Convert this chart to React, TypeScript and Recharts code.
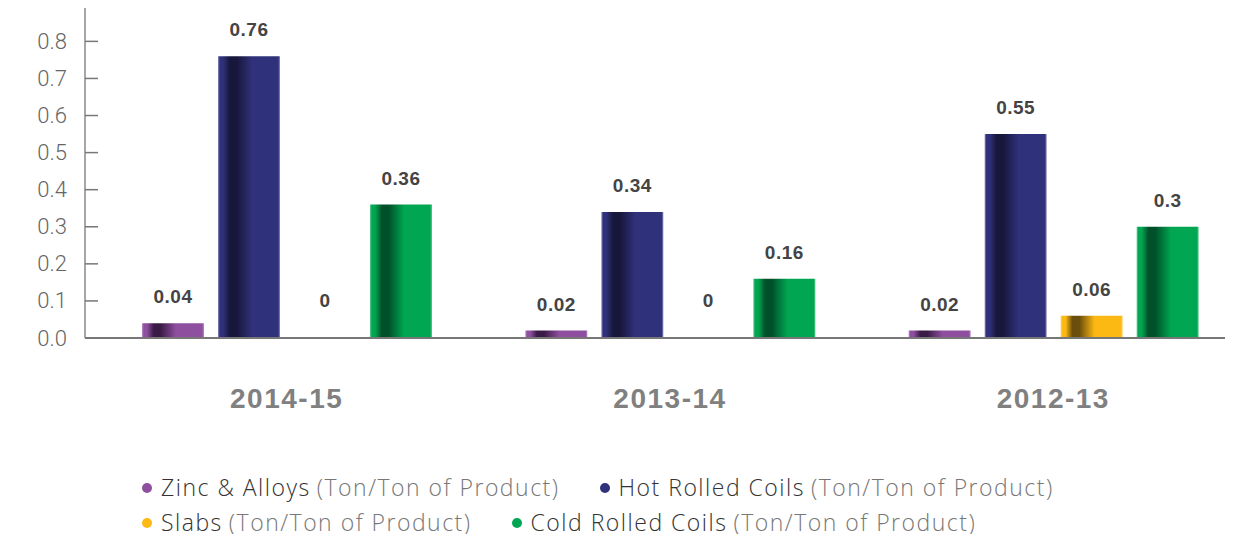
import { BarChart, Bar, XAxis, YAxis, Legend, LabelList } from 'recharts';

const years = ['2014-15', '2013-14', '2012-13'];
const zinc = [0.04, 0.02, 0.02];
const hotRolled = [0.76, 0.34, 0.55];
const slabs = [0, 0, 0.06];
const coldRolled = [0.36, 0.16, 0.3];
const yTicks = [0, 0.1, 0.2, 0.3, 0.4, 0.5, 0.6, 0.7, 0.8];
const unitLabel = '(Ton/Ton of Product)';

const series = [
  { key: 'zinc', name: 'Zinc & Alloys', color: '#8f4f9f', dark: '#3a1b45', edge: '#b98cc4' },
  { key: 'hot', name: 'Hot Rolled Coils', color: '#30317b', dark: '#17173b', edge: '#8a8ab8' },
  { key: 'slabs', name: 'Slabs', color: '#fdb913', dark: '#6b4d0c', edge: '#fdd070' },
  { key: 'cold', name: 'Cold Rolled Coils', color: '#00a651', dark: '#00502a', edge: '#60c890' },
];

const data = years.map((year, i) => ({
  year,
  zinc: zinc[i],
  hot: hotRolled[i],
  slabs: slabs[i],
  cold: coldRolled[i],
}));

const colorOf: Record<string, string> = Object.fromEntries(series.map((s) => [s.key, s.color]));
const orderOf: Record<string, number> = Object.fromEntries(series.map((s, i) => [s.key, i]));

function YTick(props: any) {
  const { x, y, payload } = props;
  return (
    <g>
      <line x1={x + 18} x2={x + 31} y1={y} y2={y} stroke="#777" strokeWidth={1.5} />
      <text
        x={x}
        y={y}
        dy={7.5}
        textAnchor="end"
        fill="#666"
        fontSize={22}
        fontFamily="Roboto, 'Liberation Sans', sans-serif"
        fontWeight={300}
      >
        {Number(payload.value).toFixed(1)}
      </text>
    </g>
  );
}

function ValueLabel(props: any) {
  const { x, y, width, value } = props;
  const lift = value === 0 ? 31 : 20;
  return (
    <text
      x={x + width / 2}
      y={y - lift}
      textAnchor="middle"
      fill="#444"
      fontSize={19}
      fontWeight="bold"
      letterSpacing={0.5}
      fontFamily="'Liberation Sans', Arial, sans-serif"
    >
      {value}
    </text>
  );
}

function LegendContent(props: any) {
  const items = [...(props.payload || [])].sort(
    (a: any, b: any) => orderOf[a.dataKey] - orderOf[b.dataKey]
  );
  const rows = [items.slice(0, 2), items.slice(2, 4)];
  return (
    <div style={{ height: 64, paddingLeft: 134 }}>
      {rows.map((row: any[], r: number) => (
        <div
          key={r}
          style={{
            height: r === 0 ? 35 : 23,
            paddingTop: r === 0 ? 0 : 6,
            display: 'flex',
            alignItems: 'center',
            gap: 40,
          }}
        >
          {row.map((item: any) => (
            <div
              key={item.dataKey}
              style={{
                display: 'flex',
                alignItems: 'center',
                fontFamily: "'Open Sans', Roboto, sans-serif",
                fontWeight: 300,
                fontSize: 23,
                lineHeight: 1,
                letterSpacing: 1.5,
                whiteSpace: 'nowrap',
              }}
            >
              <span
                style={{
                  width: 10,
                  height: 10,
                  borderRadius: 5,
                  background: colorOf[item.dataKey],
                  marginRight: 9,
                  display: 'inline-block',
                }}
              />
              <span style={{ color: '#333' }}>{item.value}</span>
              <span style={{ color: '#777', marginLeft: 6 }}>{unitLabel}</span>
            </div>
          ))}
        </div>
      ))}
    </div>
  );
}

export default function App() {
  return (
    <BarChart
      width={1217}
      height={526}
      data={data}
      margin={{ top: 0, right: 0, bottom: 0, left: 0 }}
      barSize={62}
      barGap={14}
    >
      <defs>
        {series.map((s) => (
          <linearGradient key={s.key} id={`grad-${s.key}`} x1="0" y1="0" x2="1" y2="0">
            <stop offset="0%" stopColor={s.edge} />
            <stop offset="3%" stopColor={s.color} />
            <stop offset="8%" stopColor={s.color} />
            <stop offset="19%" stopColor={s.dark} />
            <stop offset="30%" stopColor={s.dark} />
            <stop offset="55%" stopColor={s.color} />
            <stop offset="97%" stopColor={s.color} />
            <stop offset="100%" stopColor={s.edge} />
          </linearGradient>
        ))}
      </defs>
      <XAxis
        dataKey="year"
        height={132}
        padding={{ left: 10, right: -20 }}
        axisLine={{ stroke: '#777', strokeWidth: 2 }}
        tickLine={false}
        tickSize={0}
        tickMargin={50}
        tick={{
          fill: '#808080',
          fontSize: 28,
          fontWeight: 'bold',
          letterSpacing: 1.5,
          fontFamily: "'Liberation Sans', Arial, sans-serif",
        }}
      />
      <YAxis
        width={77}
        domain={[0, 0.89]}
        ticks={yTicks}
        interval={0}
        axisLine={{ stroke: '#888', strokeWidth: 1.5 }}
        tickLine={false}
        tickSize={0}
        tickMargin={18}
        tick={<YTick />}
      />
      <Legend verticalAlign="bottom" align="left" content={<LegendContent />} />
      {series.map((s) => (
        <Bar
          key={s.key}
          dataKey={s.key}
          name={s.name}
          fill={`url(#grad-${s.key})`}
          minPointSize={0.01}
          isAnimationActive={false}
        >
          <LabelList dataKey={s.key} content={<ValueLabel />} />
        </Bar>
      ))}
    </BarChart>
  );
}
